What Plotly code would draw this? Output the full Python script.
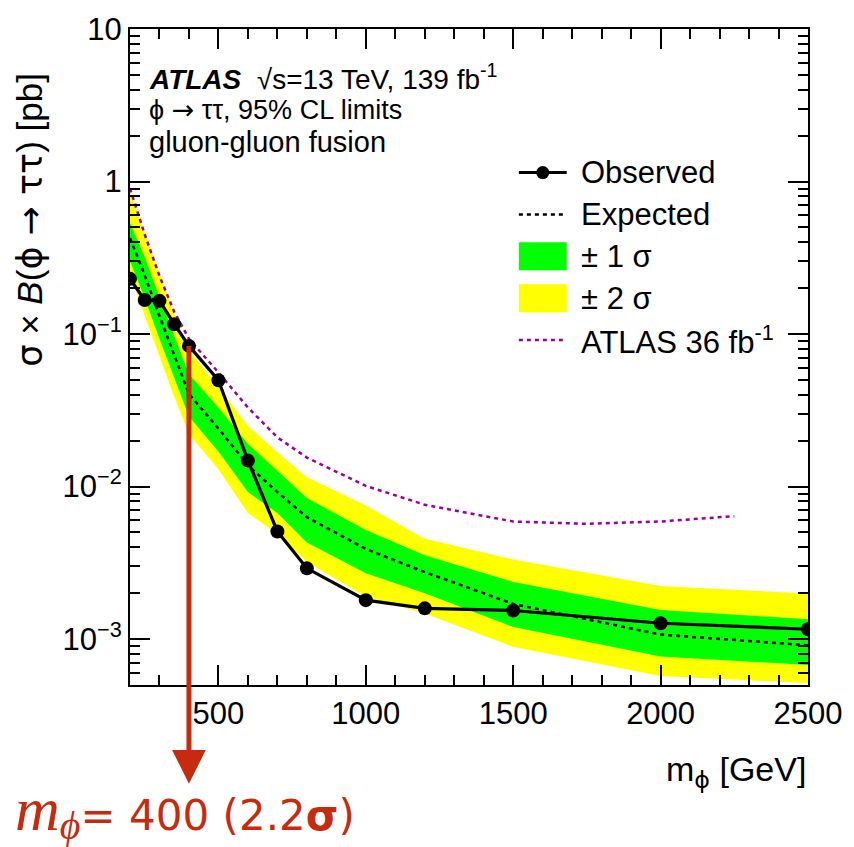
import numpy as np
import plotly.graph_objects as go

# ---------------- data ----------------
mass = [200, 250, 300, 350, 400, 500, 600, 700, 800, 1000, 1200, 1500, 2000, 2500]
observed = [0.230, 0.167, 0.165, 0.116, 0.0836, 0.0498, 0.0148, 0.00508, 0.00291,
            0.00180, 0.00159, 0.00154, 0.00127, 0.00116]
expected = [0.425, 0.243, 0.131, 0.0718, 0.0405, 0.0240, 0.0138, 0.0092, 0.0063,
            0.0039, 0.00275, 0.00170, 0.00107, 0.00091]
plus1 = [0.534, 0.320, 0.175, 0.097, 0.0545, 0.033, 0.019, 0.0127, 0.0084,
         0.0052, 0.00354, 0.00237, 0.00155, 0.00135]
minus1 = [0.300, 0.172, 0.093, 0.051, 0.0288, 0.017, 0.0092, 0.0067, 0.0043,
          0.0027, 0.0020, 0.00120, 0.00077, 0.000676]
plus2 = [0.84, 0.46, 0.25, 0.137, 0.078, 0.045, 0.0250, 0.0168, 0.0115,
         0.0075, 0.00455, 0.00332, 0.00223, 0.00199]
minus2 = [0.245, 0.132, 0.071, 0.039, 0.022, 0.013, 0.0067, 0.0049, 0.0032,
          0.0019, 0.00147, 0.00089, 0.000573, 0.000515]

mass36 = [200, 250, 300, 350, 400, 500, 600, 700, 800, 1000, 1200, 1500, 1750, 2000, 2250]
limit36 = [0.90, 0.45, 0.24, 0.14, 0.093, 0.056, 0.033, 0.021, 0.0155, 0.0101,
           0.0076, 0.0059, 0.0057, 0.0059, 0.0064]

x_ticks = [500, 1000, 1500, 2000, 2500]
y_ticks = [10, 1, 0.1, 0.01, 0.001]
y_ticktext = ["10", "1", "10<sup>\u22121</sup>", "10<sup>\u22122</sup>", "10<sup>\u22123</sup>"]

legend_names = ["Observed", "Expected", "\u00b1 1 \u03c3", "\u00b1 2 \u03c3",
                "ATLAS 36 fb<sup>-1</sup>"]

highlight_mass = 400
highlight_label = "2.2"

# ---------------- style ----------------
FONT = "Liberation Sans, Arial, Helvetica, sans-serif"
DJ = "font-family:'DejaVu Sans'"
GREEN = "#00ff00"
YELLOW = "#ffff00"
PURPLE = "#990099"
RED = "#c62b10"
DASH = "4px,4px"

W, H = 854, 847
ML, MR, MT, MB = 130, 44, 27, 162
PW = W - ML - MR
PH = H - MT - MB
YMIN, YMAX = np.log10(5e-4), 1.0


def px_to_paper_x(px):
    return (px - ML) / PW


def px_to_paper_y(py):
    return (MT + PH - py) / PH


fig = go.Figure()

# +-2 sigma band
fig.add_trace(go.Scatter(
    x=mass + mass[::-1], y=plus2 + minus2[::-1], fill="toself", fillcolor=YELLOW,
    line=dict(width=0, color=YELLOW), mode="lines", name=legend_names[3],
    hoverinfo="skip"))
# +-1 sigma band
fig.add_trace(go.Scatter(
    x=mass + mass[::-1], y=plus1 + minus1[::-1], fill="toself", fillcolor=GREEN,
    line=dict(width=0, color=GREEN), mode="lines", name=legend_names[2],
    hoverinfo="skip"))
# expected
fig.add_trace(go.Scatter(
    x=mass, y=expected, mode="lines", name=legend_names[1],
    line=dict(color="black", width=2.5, dash=DASH)))
# previous ATLAS 36 fb-1
fig.add_trace(go.Scatter(
    x=mass36, y=limit36, mode="lines", name=legend_names[4],
    line=dict(color=PURPLE, width=2.5, dash=DASH)))
# observed
fig.add_trace(go.Scatter(
    x=mass, y=observed, mode="lines+markers", name=legend_names[0],
    line=dict(color="black", width=3.2), marker=dict(color="black", size=14)))

# minor tick values for log axis
minor_y = [m * 10.0 ** e for e in range(-4, 1) for m in range(2, 10)]
minor_y = [v for v in minor_y if 5e-4 <= v <= 10]

axis_common = dict(showline=True, linecolor="black", linewidth=2, mirror="allticks",
                   ticks="inside", tickcolor="black", tickwidth=1.5, ticklen=20,
                   showgrid=False, zeroline=False,
                   tickfont=dict(family=FONT, size=31, color="black"))

fig.update_xaxes(range=[200, 2500], tickvals=x_ticks, ticktext=[str(v) for v in x_ticks],
                 minor=dict(ticks="inside", ticklen=10, tickwidth=1.5, tickcolor="black",
                            dtick=100, tick0=0, showgrid=False),
                 **axis_common)
fig.update_yaxes(type="log", range=[YMIN, YMAX], tickvals=y_ticks, ticktext=y_ticktext,
                 minor=dict(ticks="inside", ticklen=10, tickwidth=1.5, tickcolor="black",
                            tickvals=minor_y, showgrid=False),
                 **axis_common)

# ---------------- highlight arrow ----------------
obs_hl = observed[mass.index(highlight_mass)]
tail_px = MT + (YMAX - np.log10(obs_hl)) / (YMAX - YMIN) * PH
tip_py = 784
fig.add_annotation(x=highlight_mass, xref="x", y=px_to_paper_y(tip_py), yref="paper",
                   text="", showarrow=True, ax=0, ay=tail_px - tip_py, arrowcolor=RED,
                   arrowwidth=5, arrowhead=2, arrowsize=1.35)

fig.add_annotation(
    x=px_to_paper_x(13), xref="paper", y=px_to_paper_y(812), yref="paper",
    xanchor="left", yanchor="middle", showarrow=False,
    text=("<span style=\"font-family:'Liberation Serif';font-size:62px\"><i>m</i></span>"
          "<sub><span style=\"font-family:'Liberation Serif';font-size:40px\"><i>\u03d5</i></span></sub>"
          "= 400 (" + highlight_label + "<b>\u03c3</b>)"),
    font=dict(family="DejaVu Sans", size=42, color=RED))

# ---------------- ATLAS label block ----------------
fig.add_annotation(x=px_to_paper_x(147), y=px_to_paper_y(75), xref="paper", yref="paper",
                   xanchor="left", yanchor="middle", showarrow=False,
                   text="<b><i>ATLAS</i></b>  \u221as=13 TeV, 139 fb<sup>-1</sup>",
                   font=dict(family=FONT, size=28, color="black"))
fig.add_annotation(x=px_to_paper_x(147), y=px_to_paper_y(108), xref="paper", yref="paper",
                   xanchor="left", yanchor="middle", showarrow=False,
                   text="\u03d5 <span style=\"" + DJ + "\">\u2192</span> \u03c4\u03c4, 95% CL limits",
                   font=dict(family=FONT, size=27, color="black"))
fig.add_annotation(x=px_to_paper_x(147), y=px_to_paper_y(140), xref="paper", yref="paper",
                   xanchor="left", yanchor="middle", showarrow=False,
                   text="gluon-gluon fusion",
                   font=dict(family=FONT, size=29, color="black"))

# ---------------- axis titles ----------------
fig.add_annotation(x=px_to_paper_x(30), y=px_to_paper_y(218), xref="paper", yref="paper",
                   xanchor="center", yanchor="middle", showarrow=False, textangle=-90,
                   text=("<span style=\"" + DJ + "\">\u03c3</span> \u00d7 <i>B</i>("
                         "<span style=\"" + DJ + "\">\u03d5 \u2192 \u03c4\u03c4</span>) [pb]"),
                   font=dict(family=FONT, size=35, color="black"))
fig.add_annotation(x=1, y=px_to_paper_y(772), xref="paper", yref="paper",
                   xanchor="right", yanchor="middle", showarrow=False,
                   text="m<sub><span style=\"" + DJ + "\">\u03d5</span></sub> [GeV]",
                   font=dict(family=FONT, size=34, color="black"))

# ---------------- legend (drawn in the top-right corner) ----------------
LEG_X0, LEG_X1, LEG_TX = 520, 568, 580
LEG_Y0, LEG_DY = 171, 42
legend_styles = [
    dict(kind="line", color="black", width=3, dash="solid", marker=True),
    dict(kind="line", color="black", width=2.5, dash=DASH, marker=False),
    dict(kind="box", color=GREEN),
    dict(kind="box", color=YELLOW),
    dict(kind="line", color=PURPLE, width=2.5, dash=DASH, marker=False),
]
for i, (name, st) in enumerate(zip(legend_names, legend_styles)):
    yc = LEG_Y0 + i * LEG_DY
    if st["kind"] == "line":
        fig.add_shape(type="line", xref="paper", yref="paper",
                      x0=px_to_paper_x(LEG_X0), x1=px_to_paper_x(LEG_X1),
                      y0=px_to_paper_y(yc), y1=px_to_paper_y(yc),
                      line=dict(color=st["color"], width=st["width"], dash=st["dash"]))
        if st["marker"]:
            r = 6.5
            xm = (LEG_X0 + LEG_X1) / 2
            fig.add_shape(type="circle", xref="paper", yref="paper",
                          x0=px_to_paper_x(xm - r), x1=px_to_paper_x(xm + r),
                          y0=px_to_paper_y(yc + r), y1=px_to_paper_y(yc - r),
                          fillcolor="black", line=dict(width=0))
    else:
        fig.add_shape(type="rect", xref="paper", yref="paper",
                      x0=px_to_paper_x(LEG_X0), x1=px_to_paper_x(LEG_X1),
                      y0=px_to_paper_y(yc + 14), y1=px_to_paper_y(yc - 14),
                      fillcolor=st["color"], line=dict(width=0))
    fig.add_annotation(x=px_to_paper_x(LEG_TX), y=px_to_paper_y(yc), xref="paper",
                       yref="paper", xanchor="left", yanchor="middle", showarrow=False,
                       text=name, font=dict(family=FONT, size=31, color="black"))

fig.update_layout(
    width=W, height=H, margin=dict(l=ML, r=MR, t=MT, b=MB),
    paper_bgcolor="white", plot_bgcolor="white",
    showlegend=False,
)

fig.write_html("out.html")
